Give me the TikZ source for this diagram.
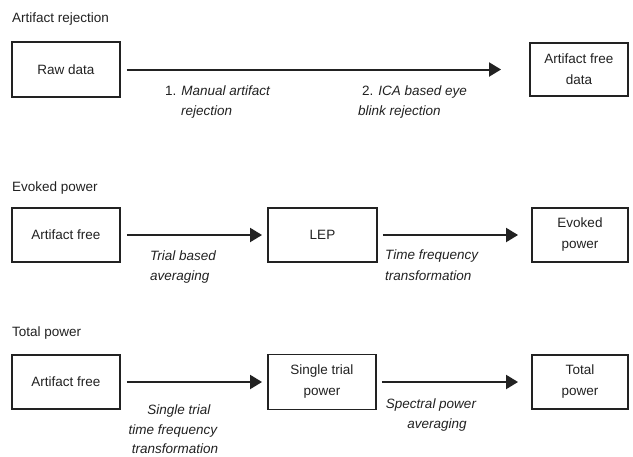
\documentclass[tikz,border=0pt]{standalone}
\usepackage{fontspec}
\setmainfont{Liberation Sans}
\usetikzlibrary{arrows.meta}
\definecolor{ink}{HTML}{222222}
\begin{document}
\begin{tikzpicture}[x=1pt,y=-1pt,
  every node/.style={text=ink},
  box/.style={draw=ink,line width=1.9pt,rectangle,inner sep=0pt,align=center,
    font=\fontsize{13.5}{21}\selectfont},
  ttl/.style={anchor=base west,inner sep=0pt,font=\fontsize{13.5}{16}\selectfont},
  lbl/.style={anchor=base west,inner sep=0pt,font=\fontsize{13.5}{16}\selectfont\itshape},
  lblc/.style={anchor=base,inner sep=0pt,font=\fontsize{13.5}{16}\selectfont\itshape},
  arr/.style={draw=ink,line width=2pt,-{Triangle[length=12pt,width=14pt]}}]
\useasboundingbox (0,0) rectangle (633,456);
\fill[white] (0,0) rectangle (633,456);

% titles
\node[ttl] (t1) at (12,22) {Artifact rejection};
\node[ttl] (t2) at (12,191) {Evoked power};
\node[ttl] (t3) at (12,336) {Total power};

% row 1
\node[box,minimum width=108pt,minimum height=55pt] (raw) at (66,69.5) {Raw data};
\node[box,minimum width=98pt,minimum height=53pt] (afd) at (579,69.5) {Artifact free\\data};
\draw[arr,shorten <=6pt,shorten >=28pt] (raw) -- (afd);
\node[ttl] (l1a) at (165,95) {1. \textit{Manual artifact}};
\node[lbl] (l1b) at (181,115) {rejection};
\node[ttl] (l2a) at (362,95) {2. \textit{ICA based eye}};
\node[lbl] (l2b) at (358,115) {blink rejection};

% row 2
\node[box,minimum width=108pt,minimum height=54pt] (af2) at (66,235) {Artifact free};
\node[box,minimum width=109pt,minimum height=54pt] (lep) at (322.5,235) {LEP};
\node[box,minimum width=96pt,minimum height=54pt] (evk) at (580,235) {Evoked\\power};
\draw[arr,shorten <=6pt,shorten >=5pt] (af2) -- (lep);
\draw[arr,shorten <=5pt,shorten >=13pt] (lep) -- (evk);
\node[lbl] (l3a) at (150,260) {Trial based};
\node[lbl] (l3b) at (150,280) {averaging};
\node[lbl] (l4a) at (385,259) {Time frequency};
\node[lbl] (l4b) at (385,280) {transformation};

% row 3
\node[box,minimum width=108pt,minimum height=54pt] (af3) at (66,382) {Artifact free};
\node[box,minimum width=108pt,minimum height=55pt] (stp) at (322,382) {Single trial\\power};
\node[box,minimum width=96pt,minimum height=54pt] (tot) at (580,382) {Total\\power};
\draw[arr,shorten <=6pt,shorten >=5pt] (af3) -- (stp);
\draw[arr,shorten <=5pt,shorten >=13pt] (stp) -- (tot);
\node[lblc] (l5a) at (179,414) {Single trial};
\node[lblc] (l5b) at (173,434) {time frequency};
\node[lblc] (l5c) at (175,453) {transformation};
\node[lblc] (l6a) at (431,408) {Spectral power};
\node[lblc] (l6b) at (437,428) {averaging};
\end{tikzpicture}
\end{document}
